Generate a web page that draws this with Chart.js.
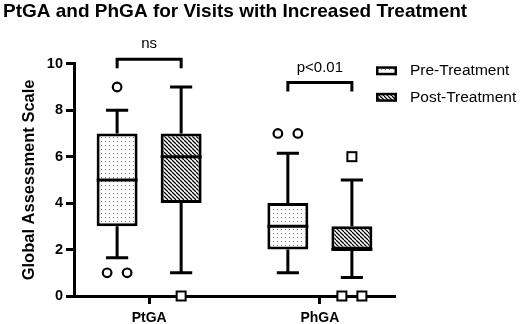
<!DOCTYPE html>
<html><head><meta charset="utf-8">
<script src="https://cdn.jsdelivr.net/npm/chart.js@4.4.0/dist/chart.umd.min.js"></script>
<style>html,body{margin:0;padding:0;background:#fff;}#wrap{width:520px;height:324px;}</style>
</head><body><div id="wrap"><canvas id="c" width="520" height="324"></canvas></div>
<script>
// ---- data ----
const chartTitle = 'PtGA and PhGA for Visits with Increased Treatment';
const yAxisTitle = 'Global Assessment Scale';
const categories = ['PtGA', 'PhGA'];
const seriesLabels = ['Pre-Treatment', 'Post-Treatment'];
const yTicks = [0, 2, 4, 6, 8, 10];

const preMin    = [1.65, 1];
const preQ1     = [3, 2];
const preMedian = [5, 3];
const preQ3     = [7, 4];
const preMax    = [8, 6.15];
const preOutliers = [[9, 1, 1], [7, 7]];

const postMin    = [1, 0.8];
const postQ1     = [4, 2];
const postMedian = [6, 2];
const postQ3     = [7, 3];
const postMax    = [9, 5];
const postOutliers = [[0], [6, 0, 0]];

const sigLabels = ['ns', 'p<0.01'];
const sigLevels = [10.2, 9.2];

// ---- styling ----
const FONT = '"Liberation Sans", Arial, Helvetica, sans-serif';
const canvas = document.getElementById('c');
const mainCtx = canvas.getContext('2d');

function dotPattern() {
  const c = document.createElement('canvas'); c.width = 4; c.height = 4;
  const g = c.getContext('2d');
  g.fillStyle = '#fcfcfc'; g.fillRect(0, 0, 4, 4);
  g.fillStyle = '#7d7d7d'; g.fillRect(1, 1, 1, 1);
  return mainCtx.createPattern(c, 'repeat');
}
function hatchPattern() {
  const c = document.createElement('canvas'); c.width = 4; c.height = 4;
  const g = c.getContext('2d');
  g.fillStyle = '#ffffff'; g.fillRect(0, 0, 4, 4);
  g.strokeStyle = '#000'; g.lineWidth = 1.25;
  for (const o of [-4, 0, 4]) { g.beginPath(); g.moveTo(o, 0); g.lineTo(o + 4, 4); g.stroke(); }
  return mainCtx.createPattern(c, 'repeat');
}

const boxSeries = [
  { label: seriesLabels[0], min: preMin, q1: preQ1, median: preMedian, q3: preQ3, max: preMax, outliers: preOutliers, marker: 'circle', fill: dotPattern() },
  { label: seriesLabels[1], min: postMin, q1: postQ1, median: postMedian, q3: postQ3, max: postMax, outliers: postOutliers, marker: 'square', fill: hatchPattern() }
];

function elems(chart, d) {
  return chart.getDatasetMeta(d).data.map(el => el.getProps(['x', 'width'], true));
}

const boxPlugin = {
  id: 'boxExtras',
  beforeDatasetsDraw(chart) {
    const ctx = chart.ctx, y = chart.scales.y;
    ctx.save();
    ctx.strokeStyle = '#000'; ctx.lineWidth = 3; ctx.lineCap = 'butt';
    boxSeries.forEach((s, d) => {
      elems(chart, d).forEach((e, i) => {
        const cap = e.width * 0.54;
        const segs = [[s.q3[i], s.max[i]], [s.q1[i], s.min[i]]];
        segs.forEach(([from, to]) => {
          ctx.beginPath();
          ctx.moveTo(e.x, y.getPixelForValue(from));
          ctx.lineTo(e.x, y.getPixelForValue(to));
          ctx.moveTo(e.x - cap / 2, y.getPixelForValue(to));
          ctx.lineTo(e.x + cap / 2, y.getPixelForValue(to));
          ctx.stroke();
        });
      });
    });
    ctx.restore();
  },
  afterDatasetsDraw(chart) {
    const ctx = chart.ctx, y = chart.scales.y;
    ctx.save();
    ctx.strokeStyle = '#000'; ctx.lineWidth = 3;
    boxSeries.forEach((s, d) => {
      elems(chart, d).forEach((e, i) => {
        const py = y.getPixelForValue(s.median[i]);
        ctx.beginPath();
        ctx.moveTo(e.x - e.width / 2, py); ctx.lineTo(e.x + e.width / 2, py);
        ctx.stroke();
      });
    });
    ctx.restore();
  },
  afterDraw(chart) {
    const ctx = chart.ctx, y = chart.scales.y, area = chart.chartArea;
    ctx.save();
    // outliers
    boxSeries.forEach((s, d) => {
      elems(chart, d).forEach((e, i) => {
        const counts = {};
        s.outliers[i].forEach(v => { counts[v] = (counts[v] || 0) + 1; });
        const seen = {};
        s.outliers[i].forEach(v => {
          const n = counts[v]; const j = seen[v] = (seen[v] === undefined ? 0 : seen[v] + 1);
          const px = e.x + (j - (n - 1) / 2) * 20;
          const py = y.getPixelForValue(v);
          ctx.fillStyle = '#fff'; ctx.strokeStyle = '#000';
          if (s.marker === 'circle') {
            ctx.lineWidth = 2.2;
            ctx.beginPath(); ctx.arc(px, py, 4.3, 0, Math.PI * 2); ctx.fill(); ctx.stroke();
          } else {
            ctx.lineWidth = 2;
            ctx.fillRect(px - 4.5, py - 4.5, 9, 9); ctx.strokeRect(px - 4.5, py - 4.5, 9, 9);
          }
        });
      });
    });
    // significance brackets
    const a = elems(chart, 0), b = elems(chart, 1);
    ctx.strokeStyle = '#000'; ctx.lineWidth = 3; ctx.fillStyle = '#000';
    ctx.font = '15px ' + FONT; ctx.textAlign = 'center'; ctx.textBaseline = 'middle';
    categories.forEach((c, i) => {
      const py = y.getPixelForValue(sigLevels[i]);
      ctx.beginPath();
      ctx.moveTo(a[i].x, py + 9); ctx.lineTo(a[i].x, py); ctx.lineTo(b[i].x, py); ctx.lineTo(b[i].x, py + 9);
      ctx.stroke();
      ctx.fillText(sigLabels[i], (a[i].x + b[i].x) / 2, py - 15);
    });
    // legend
    ctx.textAlign = 'left';
    ctx.font = '15.5px ' + FONT;
    boxSeries.forEach((s, k) => {
      const ly = area.top + 7 + k * 26.5;
      const lx = area.right - 19;
      ctx.fillStyle = '#000'; ctx.fillRect(lx, ly - 4.5, 21, 9);
      ctx.fillStyle = s.fill; ctx.fillRect(lx + 2.5, ly - 2, 16, 4);
      ctx.fillStyle = '#000'; ctx.fillText(s.label, lx + 34, ly);
    });
    ctx.restore();
  }
};

const axisGrid = { display: true, drawOnChartArea: false, drawTicks: true, tickLength: 8, tickWidth: 3, tickColor: '#000', offset: false };
const axisBorder = { display: true, color: '#000', width: 3 };

new Chart(canvas, {
  type: 'bar',
  data: {
    datasets: boxSeries.map(s => ({
      label: s.label,
      data: categories.map((c, i) => ({ x: i + 1, y: [s.q1[i], s.q3[i]] })),
      backgroundColor: s.fill,
      borderColor: '#000',
      borderWidth: 3,
      borderSkipped: false,
      barPercentage: 0.64,
      categoryPercentage: 0.75
    }))
  },
  options: {
    responsive: false,
    animation: false,
    devicePixelRatio: 1,
    layout: { padding: { left: 3, right: 0, top: 0, bottom: 0 } },
    plugins: {
      legend: { display: false },
      tooltip: { enabled: false },
      title: {
        display: true, text: chartTitle, align: 'start', color: '#000',
        font: { family: FONT, size: 19, weight: 'bold' },
        padding: { top: 0, bottom: 41 }
      }
    },
    scales: {
      x: {
        type: 'linear', min: 0.56, max: 2.44, offset: false,
        afterBuildTicks: sc => { sc.ticks = categories.map((c, i) => ({ value: i + 1 })); },
        afterFit: sc => { sc.height = 28; },
        ticks: { callback: v => categories[v - 1], color: '#000', padding: 5.5, maxRotation: 0,
                 font: { family: FONT, size: 14, weight: 'bold' } },
        grid: axisGrid, border: axisBorder
      },
      y: {
        min: 0, max: 10,
        afterBuildTicks: sc => { sc.ticks = yTicks.map(v => ({ value: v })); },
        afterFit: sc => { sc.width = 71; },
        ticks: { color: '#000', padding: 3, font: { family: FONT, size: 14.5, weight: 'bold' } },
        grid: axisGrid, border: axisBorder,
        title: { display: true, text: yAxisTitle, color: '#000',
                 font: { family: FONT, size: 16.5, weight: 'bold' }, padding: { top: 17, bottom: 0 } }
      },
      spacer: {
        type: 'linear', position: 'right', display: true,
        ticks: { display: false }, grid: { display: false }, border: { display: false },
        afterFit: sc => { sc.width = 125; }
      }
    }
  },
  plugins: [boxPlugin]
});
</script></body></html>
